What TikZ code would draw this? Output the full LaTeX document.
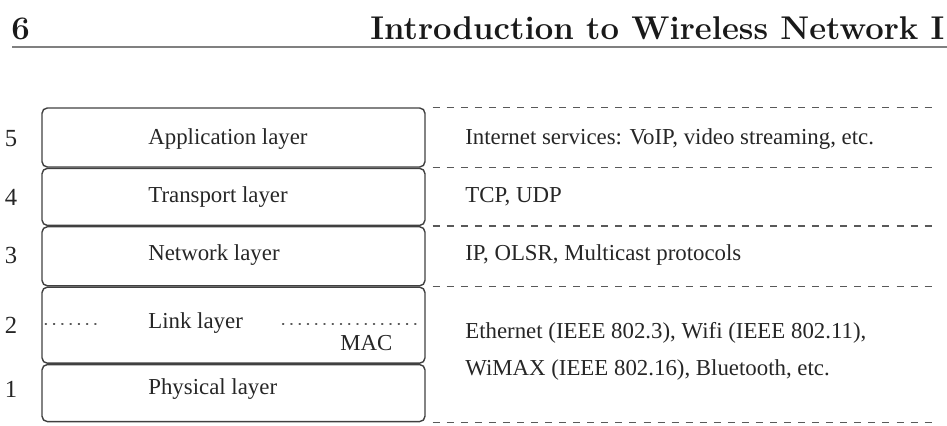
\documentclass[tikz,border=0pt]{standalone}
\usepackage{fontspec}
\newfontfamily\figfont{Liberation Serif}
\usetikzlibrary{calc,positioning}

\begin{document}
\begin{tikzpicture}[
  x=0.02cm, y=-0.02cm,
  layer/.style={rectangle, draw=black!75, line width=0.8pt, rounded corners=3pt, minimum width=7.66cm, inner sep=0pt},
  layertext/.style={font=\figfont\fontsize{13}{15}\selectfont, text=black!85, anchor=west, inner sep=0pt},
  num/.style={font=\figfont\fontsize{14}{16}\selectfont, text=black!85, inner sep=0pt},
  proto/.style={font=\figfont\fontsize{13}{21}\selectfont, text=black!85, anchor=west, align=left, inner sep=0pt},
  sep/.style={draw=black!65, line width=0.7pt, dash pattern=on 4pt off 4pt},
  macline/.style={draw=black!65, line width=0.8pt, dash pattern=on 0.6pt off 4.1pt, line cap=round},
  head/.style={font=\bfseries\fontsize{18.7}{20}\selectfont, text=black!90, anchor=base west, inner sep=0pt}
]
  \useasboundingbox (0,0) rectangle (947,426);
  % running head
  \node[head] (page) at (11,39) {6};
  \node[head] (title) at (370,39) {Introduction to Wireless Network I};
  \draw[black!50, line width=1.6pt] (12,47) -- (947,47);
  % protocol stack
  \node[layer, minimum height=1.18cm] (app) at (233.5,137.5) {};
  \node[layer, minimum height=1.14cm, below=0pt of app] (trans) {};
  \node[layer, minimum height=1.18cm, below=0pt of trans] (net) {};
  \node[layer, minimum height=1.52cm, below=0pt of net] (link) {};
  \node[layer, minimum height=1.14cm, below=0pt of link] (phys) {};
  \node[num] (n5) at (11,139) {5};
  \node[num] (n4) at (11,197) {4};
  \node[num] (n3) at (11,255) {3};
  \node[num] (n2) at (11,325) {2};
  \node[num] (n1) at (11,389) {1};
  \node[layertext] (appname) at (148,139) {Application layer};
  \node[layertext] (transname) at (148,197) {Transport layer};
  \node[layertext] (netname) at (148,255) {Network layer};
  \node[layertext] (linkname) at (148,323) {Link layer};
  \node[layertext] (physname) at (148,389) {Physical layer};
  \node[layertext] (mac) at (340,343) {MAC};
  \draw[macline] ($(link.west)+(4,-1)$) -- ($(link.west)+(56,-1)$);
  \draw[macline] ($(link.east)+(-143,-1)$) -- ($(link.east)+(-3,-1)$);
  % examples on the right
  \draw[sep] ($(app.north east)+(7,0)$) -- +(504,0);
  \draw[sep] ($(trans.north east)+(7,0)$) -- +(504,0);
  \draw[sep] ($(net.north east)+(7,0)$) -- +(504,0);
  \draw[sep] ($(link.north east)+(7,0)$) -- +(504,0);
  \draw[sep] ($(phys.south east)+(7,0)$) -- +(504,0);
  \node[proto] (apps) at (465,139) {Internet services: VoIP, video streaming, etc.};
  \node[proto] (tcp) at (465,197) {TCP, UDP};
  \node[proto] (ip) at (465,255) {IP, OLSR, Multicast protocols};
  \node[proto] (eth) at (465,351.5) {Ethernet (IEEE 802.3), Wifi (IEEE 802.11),\\WiMAX (IEEE 802.16), Bluetooth, etc.};
\end{tikzpicture}
\end{document}
